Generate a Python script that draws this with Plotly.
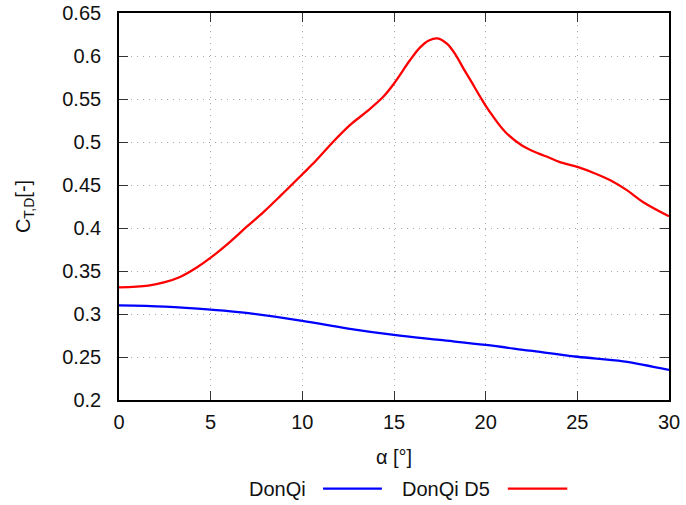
import plotly.graph_objects as go

# Data
alpha_red = [0, 1.6, 2.5, 3.33, 4.24, 5, 6.06, 6.97, 7.88, 8.79, 10, 10.76, 11.67, 12.58, 13.49,
             14.4, 15, 15.87, 16.4, 16.9, 17.37, 17.9, 18.37, 18.8, 19.25, 19.71, 20.16,
             21.07, 21.98, 22.9, 23.45, 24.05, 25, 25.9, 26.8, 27.7, 28.6, 30]
ct_d5 = [0.331, 0.333, 0.337, 0.343, 0.354, 0.3655, 0.384, 0.4015, 0.4185, 0.437, 0.4625,
         0.4787, 0.500, 0.5194, 0.535, 0.5523, 0.568, 0.595, 0.6095, 0.618, 0.6205, 0.614,
         0.601, 0.585, 0.569, 0.5523, 0.537, 0.5116, 0.496, 0.4865, 0.482, 0.4767, 0.471,
         0.464, 0.4555, 0.444, 0.430, 0.4136]

alpha_blue = [0, 2.5, 5, 7.06, 10, 12.5, 15, 17.5, 20, 22.4, 25, 27.5, 30]
ct_donqi = [0.31, 0.3085, 0.305, 0.301, 0.292, 0.283, 0.2756, 0.2698, 0.264, 0.2574,
            0.2503, 0.245, 0.235]

x_ticks = [0, 5, 10, 15, 20, 25, 30]
y_ticks = [0.2, 0.25, 0.3, 0.35, 0.4, 0.45, 0.5, 0.55, 0.6, 0.65]
y_tick_labels = ["0.2", "0.25", "0.3", "0.35", "0.4", "0.45", "0.5", "0.55", "0.6", "0.65"]
series_names = ["DonQi", "DonQi D5"]
series_colors = ["#0000ff", "#ff0000"]

FONT = "Liberation Sans, Arial, sans-serif"
FS = 20
TXT = "#111111"

fig = go.Figure()
fig.add_trace(go.Scatter(x=alpha_blue, y=ct_donqi, mode="lines", name=series_names[0],
                         line=dict(color=series_colors[0], width=2.3, shape="spline", smoothing=1.0),
                         showlegend=False))
fig.add_trace(go.Scatter(x=alpha_red, y=ct_d5, mode="lines", name=series_names[1],
                         line=dict(color=series_colors[1], width=2.3, shape="spline", smoothing=1.0),
                         showlegend=False))

axis_common = dict(
    showline=True, linecolor="#000000", linewidth=1.6, mirror="allticks",
    ticks="inside", ticklen=9, tickwidth=1.4, tickcolor="#333333",
    showgrid=True, gridcolor="#a8a8a8", gridwidth=1, griddash="1px,5px",
    zeroline=False, automargin=False,
    tickfont=dict(family=FONT, size=FS, color=TXT),
)

fig.update_xaxes(range=[0, 30], tickvals=x_ticks, ticktext=[str(v) for v in x_ticks],
                 ticklabelstandoff=3,
                 title=dict(text="α [°]", font=dict(family=FONT, size=FS, color=TXT), standoff=18),
                 **axis_common)
fig.update_yaxes(range=[0.2, 0.65], tickvals=y_ticks, ticktext=y_tick_labels,
                 ticklabelstandoff=12,
                 title=dict(text="C<sub>T,D</sub>[-]", font=dict(family=FONT, size=FS, color=TXT), standoff=26),
                 **axis_common)

# gnuplot-style legend: text then line sample
leg_y = -0.229
fig.add_annotation(x=0.344, y=leg_y, xref="paper", yref="paper", text=series_names[0],
                   showarrow=False, xanchor="right", yanchor="middle",
                   font=dict(family=FONT, size=FS, color=TXT))
fig.add_annotation(x=0.678, y=leg_y, xref="paper", yref="paper", text=series_names[1],
                   showarrow=False, xanchor="right", yanchor="middle",
                   font=dict(family=FONT, size=FS, color=TXT))
fig.add_shape(type="line", xref="paper", yref="paper", x0=0.371, x1=0.478, y0=leg_y, y1=leg_y,
              line=dict(color=series_colors[0], width=2.3))
fig.add_shape(type="line", xref="paper", yref="paper", x0=0.707, x1=0.815, y0=leg_y, y1=leg_y,
              line=dict(color=series_colors[1], width=2.3))

fig.update_layout(
    width=686, height=505,
    margin=dict(l=119, r=17, t=13, b=105),
    paper_bgcolor="#ffffff", plot_bgcolor="#ffffff",
    showlegend=False,
)

fig.write_html("out.html", config={"displayModeBar": False},
               post_script="document.body.style.margin='0';document.body.style.overflow='hidden';")
